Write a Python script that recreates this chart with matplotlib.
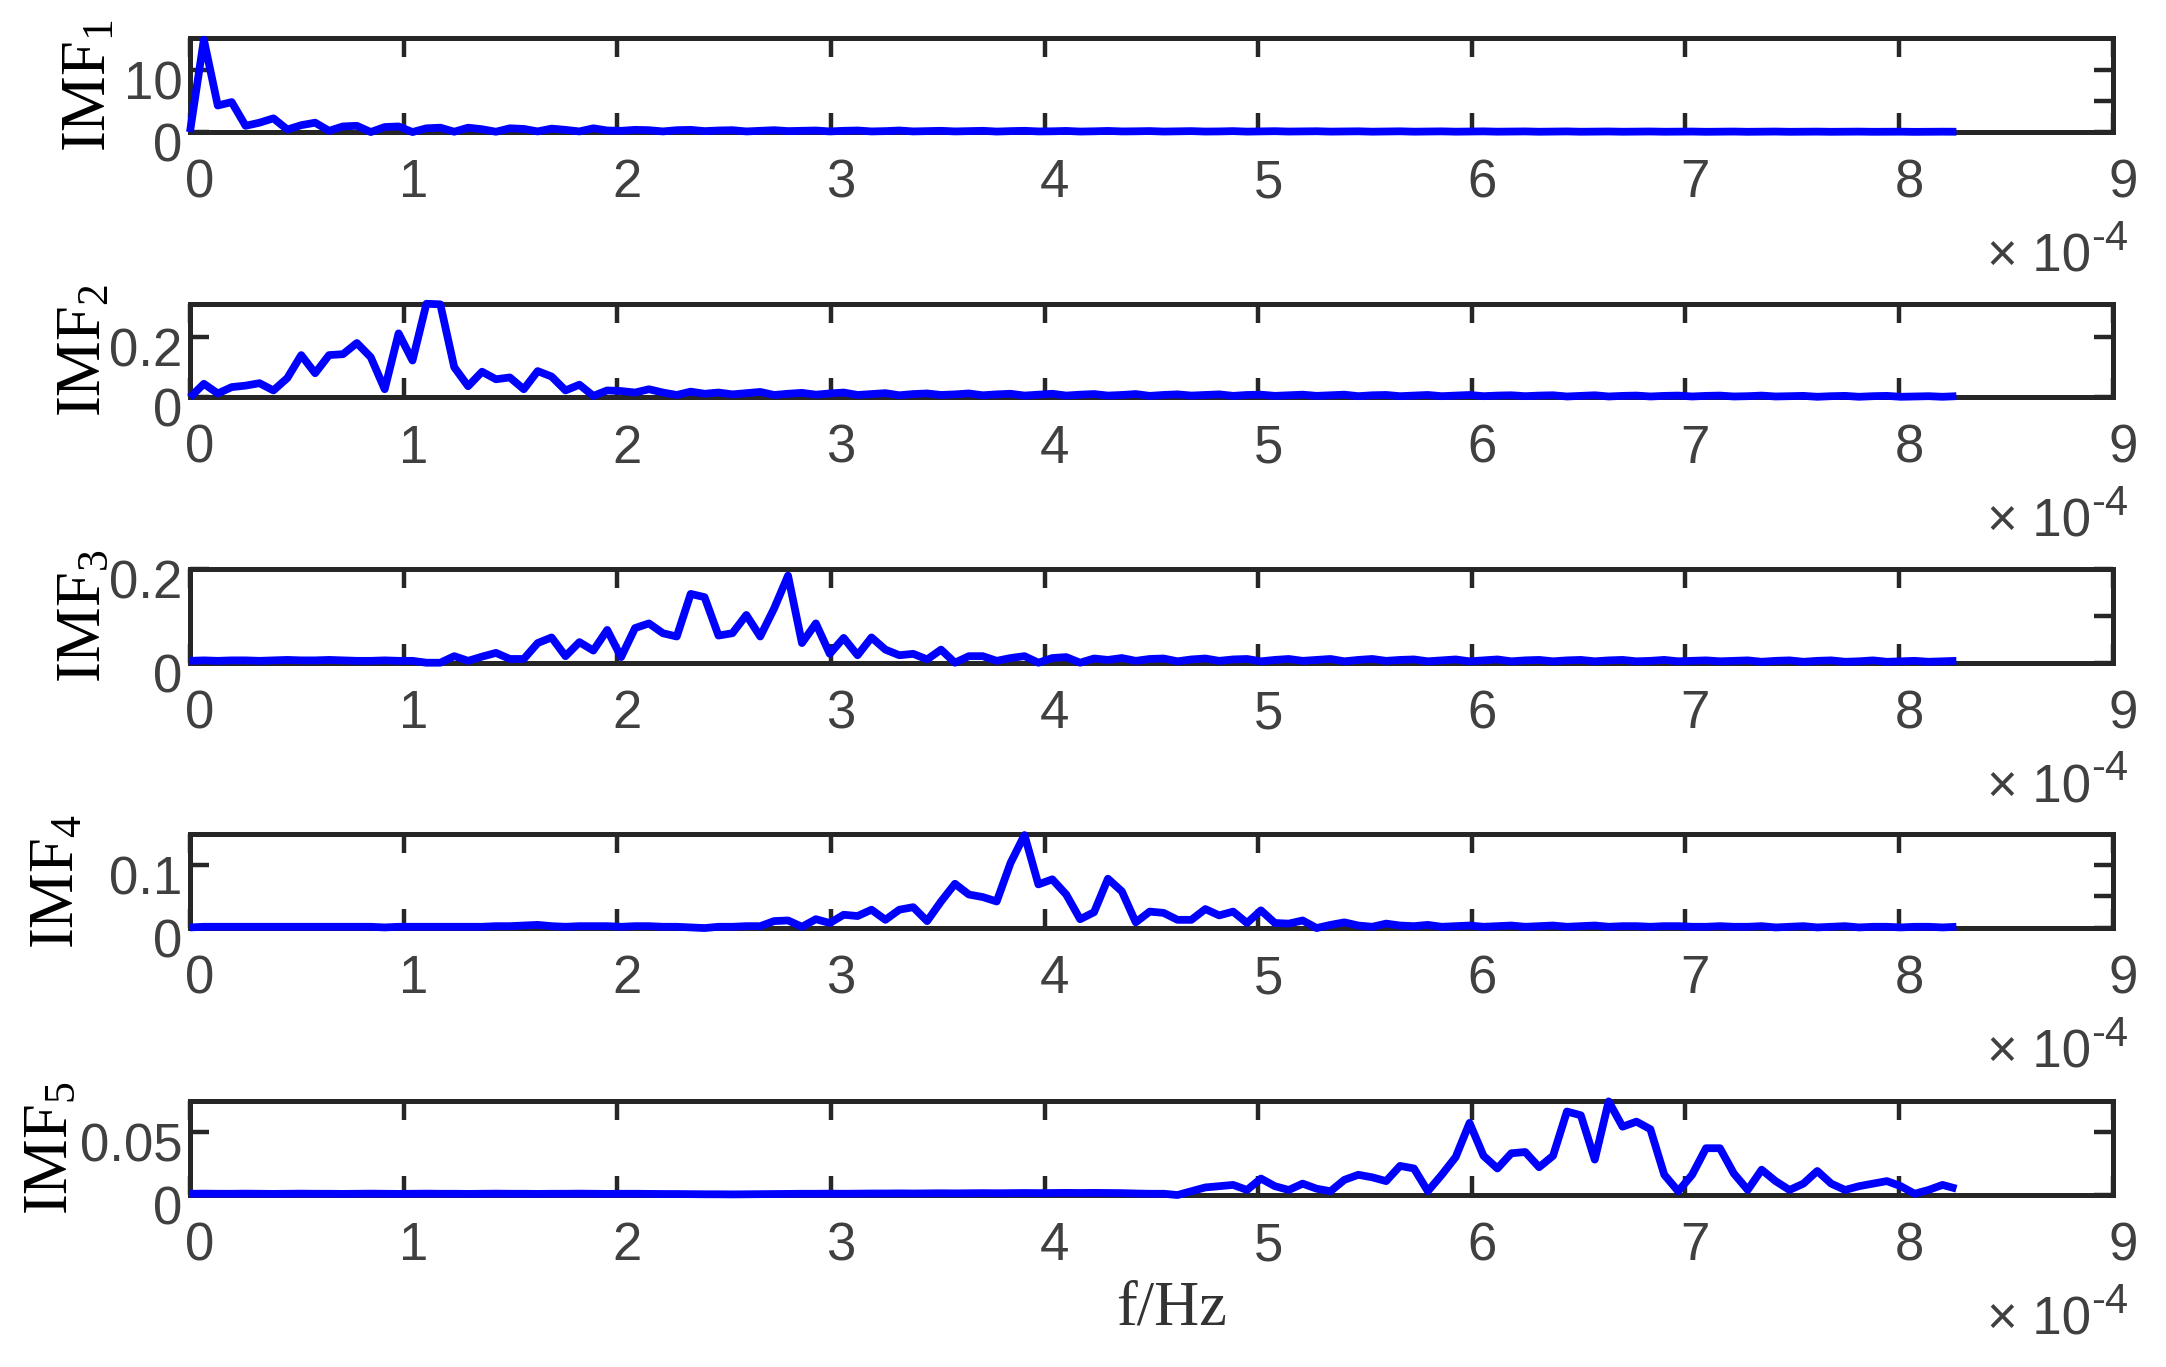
import numpy as np
import matplotlib
matplotlib.use('Agg')
import matplotlib.pyplot as plt
from matplotlib.ticker import FixedLocator
from matplotlib.transforms import ScaledTranslation

# ---------------- data ----------------
fs = 1.0 / 600.0          # sampling frequency (Hz)
nfft = 256                # FFT length -> bin spacing fs/nfft

imf1 = ([0.0, 14.8, 4.25, 4.8, 1.0, 1.5, 2.2, 0.4, 1.1, 1.5, 0.2, 0.9,
         1.0, 0.0, 0.8, 0.9, 0.0, 0.6, 0.7, 0.05, 0.7, 0.45, 0.05, 0.6,
         0.5, 0.1, 0.55, 0.35, 0.1, 0.6, 0.25, 0.2]
        + [0.35, 0.30, 0.10, 0.30, 0.35, 0.15, 0.25, 0.30, 0.10, 0.20, 0.30, 0.15,
           0.20, 0.25, 0.10, 0.20, 0.25, 0.10, 0.15, 0.25, 0.10, 0.15, 0.20, 0.10,
           0.15, 0.20, 0.08, 0.15, 0.20, 0.10, 0.12, 0.18, 0.08, 0.12, 0.18, 0.10,
           0.12, 0.16, 0.08, 0.12, 0.15, 0.08, 0.10, 0.15, 0.07, 0.10, 0.14, 0.08,
           0.10, 0.13, 0.07, 0.10, 0.12, 0.06, 0.09, 0.12, 0.06, 0.09, 0.11, 0.06,
           0.08, 0.11, 0.06, 0.08, 0.10, 0.05, 0.08, 0.10, 0.05, 0.07, 0.09, 0.05,
           0.07, 0.09, 0.05, 0.07, 0.08, 0.04, 0.06, 0.08, 0.04, 0.06, 0.08, 0.04,
           0.06, 0.07, 0.04, 0.05, 0.07, 0.04, 0.05, 0.06, 0.03, 0.05, 0.06, 0.05])

imf2 = ([0.0, 0.045, 0.013, 0.034, 0.039, 0.047, 0.023, 0.064, 0.14, 0.08,
         0.14, 0.143, 0.18, 0.133, 0.027, 0.212, 0.122, 0.31, 0.308, 0.10,
         0.037, 0.085, 0.06, 0.066, 0.027, 0.087, 0.069, 0.023, 0.042, 0.005,
         0.023, 0.021, 0.016, 0.027, 0.016, 0.008, 0.019]
        + [0.012, 0.016, 0.010, 0.014, 0.018, 0.008, 0.012, 0.015, 0.009, 0.013, 0.016, 0.008,
           0.011, 0.014, 0.007, 0.011, 0.013, 0.008, 0.010, 0.013, 0.007, 0.010, 0.012, 0.006,
           0.009, 0.012, 0.006, 0.009, 0.011, 0.006, 0.008, 0.011, 0.005, 0.008, 0.010, 0.006,
           0.008, 0.010, 0.005, 0.008, 0.009, 0.005, 0.007, 0.009, 0.005, 0.007, 0.009, 0.004,
           0.007, 0.008, 0.004, 0.006, 0.008, 0.004, 0.006, 0.008, 0.004, 0.006, 0.007, 0.004,
           0.006, 0.007, 0.003, 0.005, 0.007, 0.003, 0.005, 0.006, 0.003, 0.005, 0.006, 0.003,
           0.005, 0.006, 0.003, 0.004, 0.006, 0.003, 0.004, 0.005, 0.002, 0.004, 0.005, 0.002,
           0.004, 0.005, 0.002, 0.003, 0.004, 0.002, 0.004])

imf3 = ([0.004, 0.005, 0.004, 0.005, 0.005, 0.004, 0.005, 0.006, 0.005, 0.005,
         0.006, 0.005, 0.004, 0.004, 0.005]
        + [0.004, 0.004, 0.0, 0.0, 0.014, 0.004, 0.013, 0.021, 0.008, 0.008,
           0.042, 0.054, 0.014, 0.044, 0.026, 0.07, 0.012, 0.074, 0.084, 0.063,
           0.056, 0.147, 0.14, 0.058, 0.063, 0.102, 0.056, 0.116, 0.186, 0.042,
           0.084, 0.019, 0.053, 0.016, 0.054, 0.028, 0.016, 0.019, 0.007, 0.028,
           0.0, 0.014, 0.014, 0.004, 0.01, 0.014, 0.0, 0.01, 0.012, 0.0, 0.009]
        + [0.006, 0.010, 0.004, 0.008, 0.009, 0.003, 0.007, 0.009, 0.004, 0.007, 0.008, 0.003,
           0.006, 0.008, 0.004, 0.006, 0.008, 0.003, 0.006, 0.008, 0.004, 0.006, 0.007, 0.003,
           0.005, 0.007, 0.003, 0.005, 0.007, 0.003, 0.005, 0.006, 0.003, 0.005, 0.006, 0.003,
           0.005, 0.006, 0.003, 0.004, 0.006, 0.003, 0.004, 0.005, 0.003, 0.004, 0.005, 0.002,
           0.004, 0.005, 0.002, 0.004, 0.005, 0.002, 0.003, 0.005, 0.002, 0.003, 0.004, 0.002,
           0.003, 0.004])

imf4 = ([0.001, 0.002, 0.002, 0.002, 0.002, 0.002, 0.002, 0.002, 0.002, 0.002, 0.002, 0.002,
         0.002, 0.002, 0.001, 0.002, 0.002, 0.002, 0.002, 0.002, 0.002, 0.002, 0.003, 0.003,
         0.004, 0.005, 0.003, 0.002, 0.003, 0.003, 0.003, 0.002, 0.003, 0.003, 0.002, 0.002,
         0.001]
        + [0.0, 0.002, 0.002, 0.003, 0.003, 0.011, 0.012, 0.002, 0.014, 0.008,
           0.021, 0.019, 0.029, 0.013, 0.029, 0.033, 0.011, 0.042, 0.07, 0.053,
           0.049, 0.042, 0.103, 0.147, 0.069, 0.077, 0.053, 0.014, 0.025, 0.078,
           0.058, 0.009, 0.026, 0.024, 0.013, 0.013, 0.03, 0.02, 0.026, 0.008,
           0.028, 0.008, 0.007, 0.012, 0.0, 0.005, 0.009, 0.004, 0.002, 0.007,
           0.004]
        + [0.003, 0.005, 0.002, 0.003, 0.004, 0.002, 0.003, 0.004, 0.002, 0.003, 0.004, 0.002,
           0.003, 0.004, 0.002, 0.003, 0.003, 0.002, 0.003, 0.003, 0.002, 0.002, 0.003, 0.002,
           0.002, 0.003, 0.001, 0.002, 0.003, 0.001, 0.002, 0.003, 0.001, 0.002, 0.002, 0.001,
           0.002, 0.002, 0.001, 0.002])

imf5 = ([0.0010, 0.0011, 0.0010, 0.0010, 0.0011, 0.0010, 0.0009, 0.0010, 0.0011, 0.0010, 0.0010, 0.0009,
         0.0010, 0.0011, 0.0010, 0.0009, 0.0010, 0.0011, 0.0010, 0.0010, 0.0009, 0.0010, 0.0011, 0.0010,
         0.0010, 0.0009, 0.0010, 0.0010, 0.0011, 0.0010, 0.0009, 0.0010, 0.0010, 0.0009, 0.0008, 0.0008,
         0.0007, 0.0006, 0.0006, 0.0005, 0.0006, 0.0007, 0.0008, 0.0009, 0.0010, 0.0010, 0.0011, 0.0010,
         0.0011, 0.0012, 0.0012, 0.0013, 0.0012, 0.0013, 0.0014, 0.0013, 0.0014, 0.0015, 0.0014, 0.0015,
         0.0016, 0.0015, 0.0016, 0.0017, 0.0016, 0.0017, 0.0016, 0.0015, 0.0012]
        + [0.001, 0.001, 0.0, 0.003, 0.006, 0.007, 0.008, 0.004, 0.013, 0.007,
           0.004, 0.009, 0.005, 0.003, 0.012, 0.016, 0.014, 0.011, 0.023, 0.021,
           0.003, 0.016, 0.03, 0.057, 0.031, 0.021, 0.033, 0.034, 0.022, 0.031,
           0.066, 0.063, 0.028, 0.074, 0.054, 0.058, 0.052, 0.016, 0.003, 0.016,
           0.037, 0.037, 0.017, 0.004, 0.02, 0.011, 0.004, 0.009, 0.019, 0.009,
           0.004, 0.007, 0.009, 0.011, 0.007, 0.001, 0.004, 0.008, 0.005])

series = [imf1, imf2, imf3, imf4, imf5]
ylabels = ['IMF$_1$', 'IMF$_2$', 'IMF$_3$', 'IMF$_4$', 'IMF$_5$']
ytops = [15.0, 0.31, 0.2, 0.148, 0.074]
yticks_major = [[0, 10], [0, 0.2], [0, 0.2], [0, 0.1], [0, 0.05]]
yticklabels = [['0', '10'], ['0', '0.2'], ['0', '0.2'], ['0', '0.1'], ['0', '0.05']]
yticks_right_extra = [[5], [], [0.1], [0.05], []]
xtick_vals = [0, 1, 2, 3, 4, 5, 6, 7, 8, 9]   # in units of 1e-4 Hz
xscale = 1e-4

# ---------------- style ----------------
plt.rcParams['font.family'] = ['Liberation Sans', 'DejaVu Sans']
plt.rcParams['mathtext.fontset'] = 'custom'
plt.rcParams['mathtext.rm'] = 'Liberation Serif'
plt.rcParams['mathtext.it'] = 'Liberation Serif'

AXC = '#262626'
TXC = '#404040'
LINE = '#0000ff'
TICK_FS = 38
LABEL_FS = 45

fig = plt.figure(figsize=(21.66, 13.67), dpi=100)

left, width, height = 0.0877, 0.8877, 0.0685
bottoms = [0.9034, 0.7093, 0.5152, 0.3211, 0.1258]
ylabel_x = [0.0485, 0.0462, 0.0462, 0.0337, 0.0309]   # baseline of rotated labels

xoff = ScaledTranslation(0.10, 0.0, fig.dpi_scale_trans)
yoff = ScaledTranslation(0.0, -0.10, fig.dpi_scale_trans)

for i, y in enumerate(series):
    ax = fig.add_axes([left, bottoms[i], width, height])
    freq = np.arange(len(y)) * fs / nfft
    ax.plot(freq, y, color=LINE, lw=5.6, clip_on=False, zorder=3,
            solid_joinstyle='round', solid_capstyle='butt')
    ax.set_xlim(0, 9 * xscale)
    ax.set_ylim(0, ytops[i])
    ax.set_xticks([v * xscale for v in xtick_vals])
    ax.set_xticklabels([str(v) for v in xtick_vals])
    ax.set_yticks(yticks_major[i])
    ax.set_yticklabels(yticklabels[i])
    ax.yaxis.set_minor_locator(FixedLocator(yticks_right_extra[i]))
    ax.xaxis.set_minor_locator(FixedLocator([]))
    for sp in ax.spines.values():
        sp.set_linewidth(3.6)
        sp.set_color(AXC)
        sp.set_zorder(2.5)
    ax.tick_params(axis='both', which='major', direction='in', length=14, width=3.2,
                   color=AXC, labelcolor=TXC, labelsize=TICK_FS,
                   top=True, right=True)
    ax.tick_params(axis='x', which='major', pad=19)
    ax.tick_params(axis='y', which='major', pad=5.5)
    ax.tick_params(axis='y', which='minor', direction='in', length=14, width=3.2,
                   color=AXC, left=False, right=True)
    for lab in ax.get_xticklabels():
        lab.set_transform(lab.get_transform() + xoff)
    for lab in ax.get_yticklabels():
        lab.set_transform(lab.get_transform() + yoff)
    # rotated y label (Times-like serif with subscript)
    fig.text(ylabel_x[i], bottoms[i] + height / 2, ylabels[i], rotation=90,
             rotation_mode='anchor', ha='center', va='baseline',
             fontsize=LABEL_FS, family='Liberation Serif', color='black')
    # exponent label (MATLAB style)
    fig.text(0.9656, bottoms[i] - 0.102, '\u00d7 10', ha='right', va='baseline',
             fontsize=TICK_FS, color=TXC)
    fig.text(0.9656, bottoms[i] - 0.086, '-4', ha='left', va='baseline',
             fontsize=TICK_FS - 8, color=TXC)

fig.text(0.541, 0.042, 'f/Hz', ha='center', va='center', fontsize=LABEL_FS,
         family='Liberation Serif', color='#333333')

fig.savefig('out.png', dpi=100, facecolor='white')
